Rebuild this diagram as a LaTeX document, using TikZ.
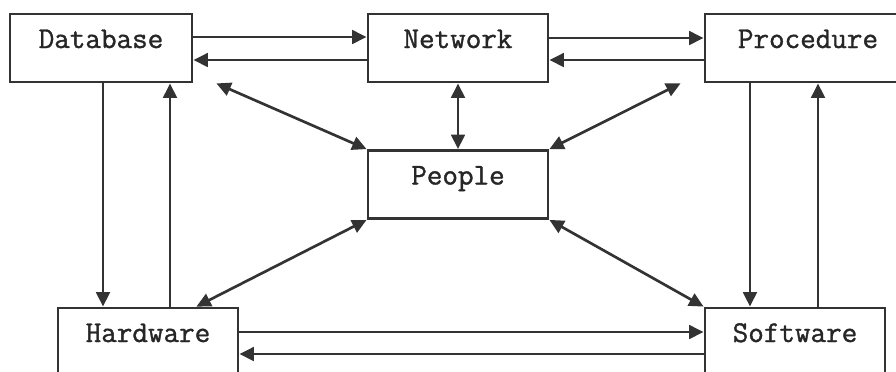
\documentclass[tikz,border=0pt]{standalone}
\usepackage{fontspec}
\newfontfamily\boxfont{Latin Modern Mono}[FakeBold=1.2]
\usetikzlibrary{arrows.meta}

\tikzset{
    sysbox/.style={draw=black!80, line width=2pt, inner sep=0pt,
        minimum width=4.5cm, text height=0.85cm, text depth=0.85cm,
        font=\boxfont\fontsize{21.5}{21.5}\selectfont, text=black!85},
    arr/.style={draw=black!80, line width=1.9pt, -{Triangle[length=0.36cm,width=0.34cm]}},
    darr/.style={arr, {Triangle[length=0.36cm,width=0.34cm]}-{Triangle[length=0.36cm,width=0.34cm]}}
}

\begin{document}
\begin{tikzpicture}[x=0.025cm,y=-0.025cm]
    \clip (0,0) rectangle (896,371);

    \node[sysbox, minimum width=4.55cm] (db) at (101,48) {Database};
    \node[sysbox] (net) at (458,48) {Network};
    \node[sysbox, minimum width=5.15cm] (proc) at (808,48) {Procedure};
    \node[sysbox] (ppl) at (458,184.5) {People};
    \node[sysbox] (hw) at (148,342) {Hardware};
    \node[sysbox] (sw) at (795,342) {Software};

    % top row
    \draw[arr] ([yshift=0.275cm]db.east) -- ([yshift=0.275cm]net.west);
    \draw[arr] ([yshift=-0.3cm]net.west) -- ([yshift=-0.3cm]db.east);
    \draw[arr] ([yshift=0.25cm]net.east) -- ([yshift=0.25cm]proc.west);
    \draw[arr] ([yshift=-0.3cm]proc.west) -- ([yshift=-0.3cm]net.east);

    % bottom row
    \draw[arr] ([yshift=0.25cm]hw.east) -- ([yshift=0.25cm]sw.west);
    \draw[arr] ([yshift=-0.3cm]sw.west) -- ([yshift=-0.3cm]hw.east);

    % left and right columns
    \draw[arr] ([xshift=0.05cm]db.south) coordinate (d1) -- (d1 |- hw.north);
    \draw[arr] ([xshift=0.55cm]hw.north) coordinate (h1) -- (h1 |- db.south);
    \draw[arr] ([xshift=-1.45cm]proc.south) coordinate (p1) -- (p1 |- sw.north);
    \draw[arr] ([xshift=0.575cm]sw.north) coordinate (s1) -- (s1 |- proc.south);

    % people in the middle
    \draw[darr] (net.south) -- (ppl.north);
    \draw[darr] (ppl.north west) -- ([xshift=0.575cm]db.south east);
    \draw[darr] (ppl.north east) -- ([xshift=-0.575cm]proc.south west);
    \draw[darr] (ppl.south west) -- ([xshift=-1.075cm]hw.north east);
    \draw[darr] (ppl.south east) -- (sw.north west);
\end{tikzpicture}
\end{document}
